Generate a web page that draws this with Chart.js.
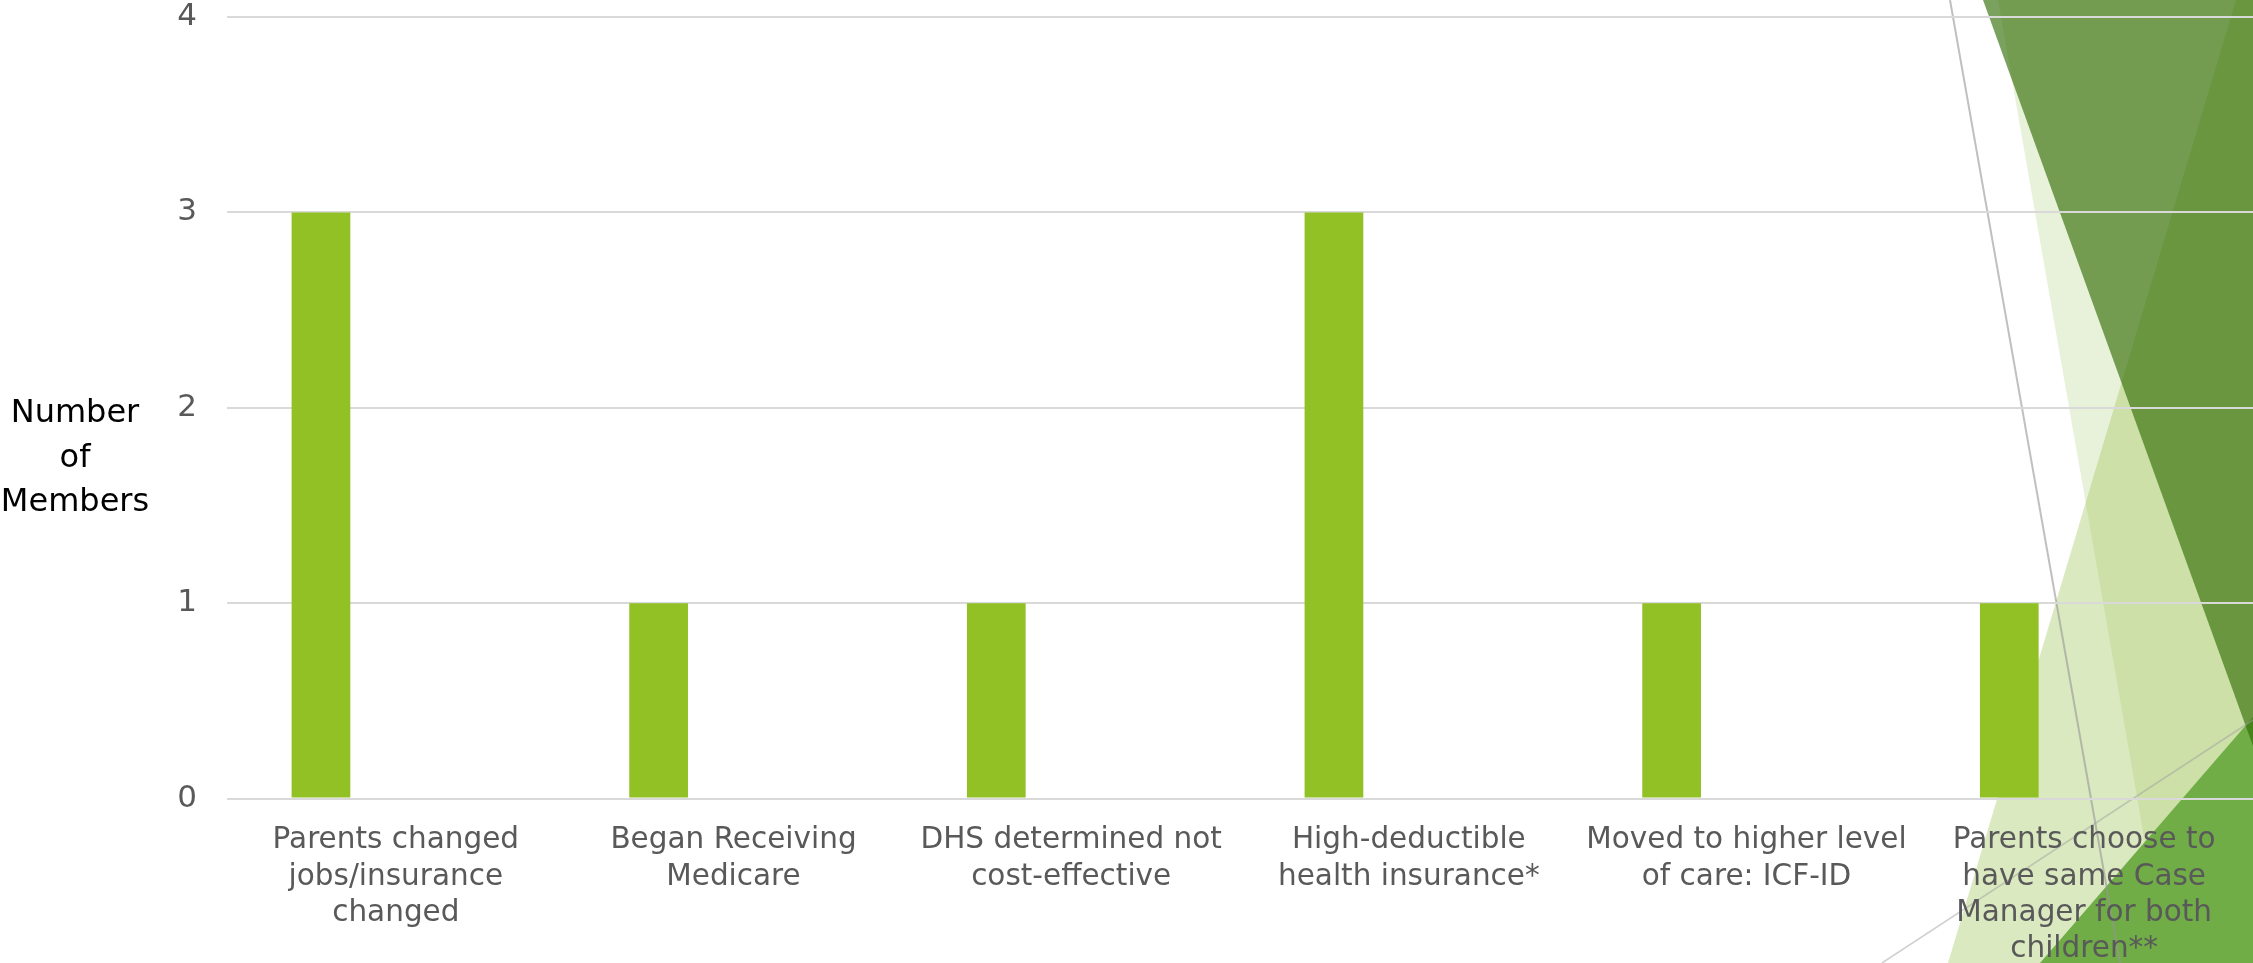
<!DOCTYPE html>
<html>
<head>
<meta charset="utf-8">
<script src="https://cdn.jsdelivr.net/npm/chart.js@4"></script>
<style>
  html, body { margin: 0; padding: 0; background: #fff; }
  #wrap { position: relative; width: 2253px; height: 963px; overflow: hidden; }
  #axisTitle {
    position: absolute; left: 0; top: 389px; width: 150px;
    text-align: center; font-family: 'DejaVu Sans', sans-serif; font-size: 32px;
    line-height: 44.5px; color: #000; z-index: 2;
  }
</style>
</head>
<body>
<div id="wrap">
  <div id="axisTitle">Number<br>of<br>Members</div>
  <canvas id="chart"></canvas>
</div>
<script>
// chart data
const categories = [
  ['Parents changed', 'jobs/insurance', 'changed'],
  ['Began Receiving', 'Medicare'],
  ['DHS determined not', 'cost-effective'],
  ['High-deductible', 'health insurance*'],
  ['Moved to higher level', 'of care: ICF-ID'],
  ['Parents choose to', 'have same Case', 'Manager for both', 'children**']
];
const memberCounts = [3, 1, 1, 3, 1, 1];
const emptySeries = [null, null, null, null, null, null];
const yMin = 0;
const yMax = 4;
const yStep = 1;

// slide background shapes (theme decoration, drawn behind the chart)
const slideDecor = {
  id: 'slideDecor',
  beforeDraw(chart) {
    const ctx = chart.ctx;
    const sx = chart.width / 2253, sy = chart.height / 963;
    const poly = (pts, fill) => {
      ctx.beginPath();
      pts.forEach((p, i) => i ? ctx.lineTo(p[0] * sx, p[1] * sy) : ctx.moveTo(p[0] * sx, p[1] * sy));
      ctx.closePath();
      ctx.fillStyle = fill;
      ctx.fill();
    };
    const line = (a, b, color, w) => {
      ctx.beginPath();
      ctx.moveTo(a[0] * sx, a[1] * sy);
      ctx.lineTo(b[0] * sx, b[1] * sy);
      ctx.strokeStyle = color;
      ctx.lineWidth = w;
      ctx.stroke();
    };
    ctx.save();
    ctx.fillStyle = '#fff';
    ctx.fillRect(0, 0, chart.width, chart.height);
    poly([[1998, 0], [2166, 963], [2253, 963], [2253, 0]], 'rgba(140,190,70,0.2)');
    poly([[2236, 0], [1948, 963], [2253, 963], [2253, 0]], 'rgba(150,190,70,0.34)');
    poly([[2040, 963], [2253, 717], [2253, 963]], '#70ad47');
    poly([[1983, 0], [2253, 0], [2253, 746]], 'rgba(48,108,3,0.64)');
    line([1950, 0], [2120, 963], 'rgba(150,150,150,0.6)', 2);
    line([1882, 963], [2253, 720], 'rgba(160,160,160,0.5)', 1.5);
    ctx.restore();
  }
};

new Chart(document.getElementById('chart'), {
  type: 'bar',
  data: {
    labels: categories,
    datasets: [
      { label: 'Members', data: memberCounts, backgroundColor: '#92c126', categoryPercentage: 0.887, barPercentage: 0.392 },
      { label: '', data: emptySeries, backgroundColor: '#92c126', categoryPercentage: 0.887, barPercentage: 0.392 }
    ]
  },
  plugins: [slideDecor],
  options: {
    responsive: true,
    maintainAspectRatio: false,
    animation: false,
    layout: { padding: { top: 17, left: 0, right: 0, bottom: 0 } },
    plugins: { legend: { display: false }, tooltip: { enabled: false } },
    scales: {
      x: {
        grid: { display: false },
        border: { display: false },
        ticks: {
          color: '#595959', padding: 16, maxRotation: 0, autoSkip: false,
          font: { family: 'DejaVu Sans', size: 29.5, lineHeight: 1.23 }
        },
        afterFit: (scale) => { scale.height = 164.5; }
      },
      y: {
        min: yMin, max: yMax,
        grid: { color: '#d9d9d9', lineWidth: 2, drawTicks: false },
        border: { display: false },
        ticks: {
          stepSize: yStep, color: '#595959', padding: 30,
          font: { family: 'DejaVu Sans', size: 31, lineHeight: 1 }
        },
        afterFit: (scale) => {
          scale.width = 227;
          scale.paddingTop = 15.5;
          scale.paddingBottom = 15.5;
        }
      }
    }
  }
});
</script>
</body>
</html>
